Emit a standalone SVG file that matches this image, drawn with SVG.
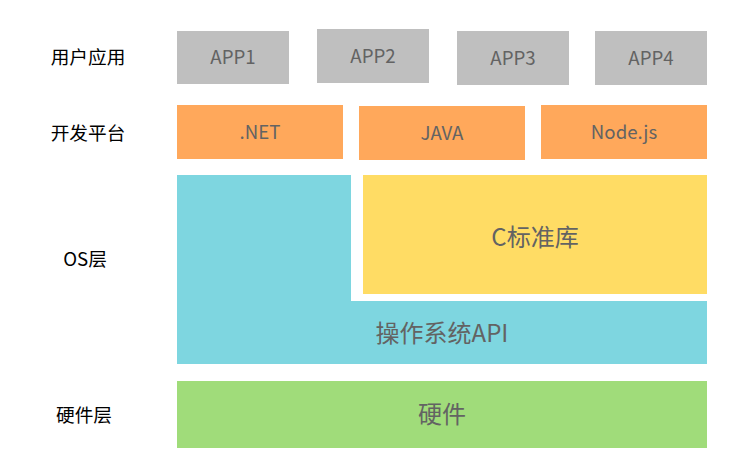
<svg xmlns="http://www.w3.org/2000/svg" width="742" height="475" viewBox="0 0 742 475">
<style>
text{font-family:"Microsoft YaHei","Noto Sans CJK SC","Noto Sans",sans-serif;text-anchor:middle}
.lbl{font-size:18.67px;fill:#000}
.t{font-size:18.67px;fill:#636363}
.big{font-size:24px;fill:#636363}
.app{fill:#BFBFBF}
.dev{fill:#FFA85B}
.os{fill:#7ED6E0}
.lib{fill:#FFDC64}
.hw{fill:#A0DC7A}
</style>
<rect width="742" height="475" fill="#fff"/>
<g id="labels">
<text class="lbl" x="88" y="64">用户应用</text>
<text class="lbl" x="88" y="140">开发平台</text>
<text class="lbl" x="85" y="266">OS层</text>
<text class="lbl" x="84" y="422">硬件层</text>
</g>
<g id="app1"><rect class="app" x="177" y="31" width="112" height="53"/><text class="t" x="233" y="64">APP1</text></g>
<g id="app2"><rect class="app" x="317" y="29" width="112" height="54"/><text class="t" x="373" y="63">APP2</text></g>
<g id="app3"><rect class="app" x="457" y="31" width="112" height="54"/><text class="t" x="513" y="65">APP3</text></g>
<g id="app4"><rect class="app" x="595" y="31" width="112" height="54"/><text class="t" x="651" y="65">APP4</text></g>
<g id="dotnet"><rect class="dev" x="177" y="105" width="166" height="54"/><text class="t" x="260" y="139">.NET</text></g>
<g id="java"><rect class="dev" x="359" y="106" width="166" height="54"/><text class="t" x="442" y="140">JAVA</text></g>
<g id="nodejs"><rect class="dev" x="541" y="105" width="166" height="54"/><text class="t" x="624" y="139">Node.js</text></g>
<g id="osapi"><path class="os" d="M177 175H351V301H707V364H177Z"/><text class="big" x="442" y="342">操作系统API</text></g>
<g id="clib"><rect class="lib" x="363" y="175" width="344" height="119"/><text class="big" x="535" y="246">C标准库</text></g>
<g id="hardware"><rect class="hw" x="177" y="381" width="530" height="67"/><text class="big" x="442" y="423">硬件</text></g>
<g id="connectors"/>
</svg>
